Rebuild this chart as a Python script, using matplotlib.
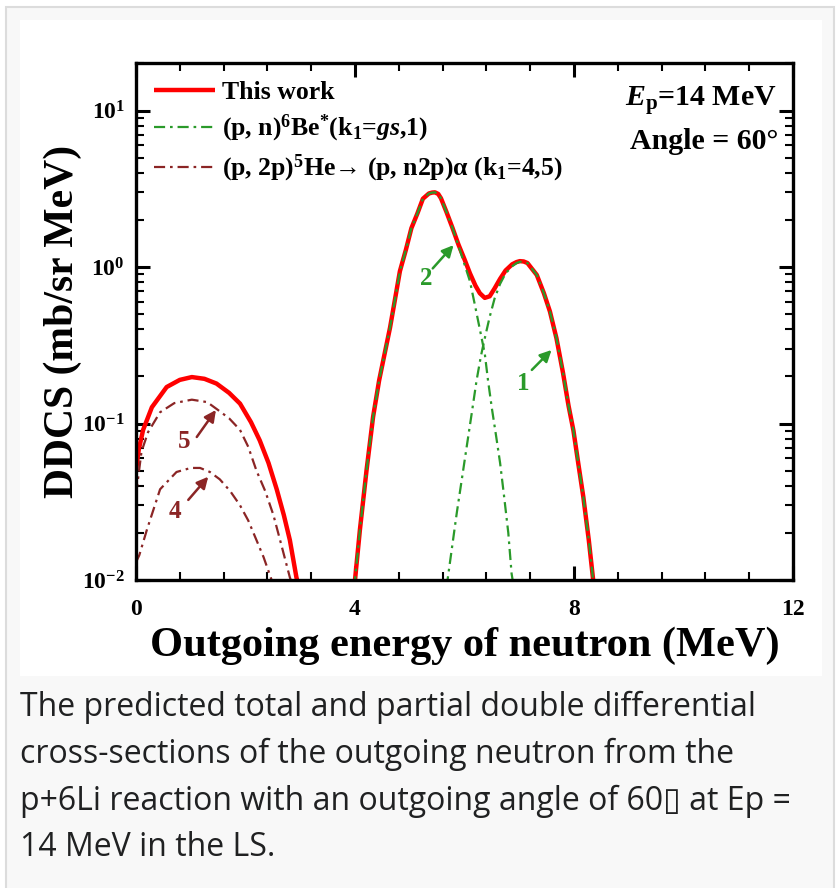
import numpy as np
import matplotlib
matplotlib.use('Agg')
from matplotlib import pyplot as plt
from matplotlib.patches import Rectangle
from matplotlib.ticker import MultipleLocator, LogLocator, NullFormatter

# ---- data ----
# total (this work), low-energy part (k1 = 4,5)
e_tot_lo = [0.0, 0.05, 0.13, 0.29, 0.56, 0.8, 1.02, 1.25, 1.47, 1.7, 1.9, 2.1, 2.26, 2.42, 2.57, 2.7, 2.81, 2.93, 2.96]
d_tot_lo = [0.05, 0.068, 0.091, 0.127, 0.171, 0.19, 0.198, 0.193, 0.18, 0.157, 0.134, 0.102, 0.078, 0.056, 0.038, 0.026, 0.018, 0.0104, 0.0095]

# total (this work), high-energy part (k1 = gs,1)
e_tot_hi = [3.98, 4.0, 4.09, 4.21, 4.33, 4.44, 4.54, 4.64, 4.73, 4.82, 4.93, 5.03, 5.14, 5.24, 5.35, 5.41, 5.46, 5.52,
            5.57, 5.67, 5.78, 5.89, 6.0, 6.1, 6.2, 6.28, 6.37, 6.46, 6.55, 6.65, 6.75, 6.87, 6.95, 7.01, 7.08, 7.15,
            7.32, 7.45, 7.56, 7.68, 7.8, 7.9, 7.99, 8.08, 8.17, 8.27, 8.35, 8.38]
d_tot_hi = [0.009, 0.01, 0.021, 0.05, 0.11, 0.188, 0.278, 0.41, 0.62, 0.94, 1.29, 1.77, 2.2, 2.73, 2.95, 2.99, 3.0, 2.93,
            2.75, 2.25, 1.78, 1.39, 1.12, 0.91, 0.76, 0.68, 0.635, 0.65, 0.73, 0.84, 0.95, 1.04, 1.075, 1.09, 1.085, 1.06,
            0.89, 0.68, 0.52, 0.35, 0.21, 0.13, 0.09, 0.055, 0.034, 0.018, 0.01, 0.009]

# partial: k1 = gs (curve 2)
e_k2 = [3.98, 4.0, 4.09, 4.21, 4.33, 4.44, 4.54, 4.64, 4.73, 4.82, 4.93, 5.03, 5.14, 5.24, 5.35, 5.41, 5.46, 5.52,
        5.57, 5.67, 5.78, 5.89, 6.0, 6.1, 6.2, 6.28, 6.37, 6.43, 6.5, 6.58, 6.65, 6.72, 6.8, 6.86, 6.9]
d_k2 = [0.009, 0.01, 0.021, 0.05, 0.11, 0.188, 0.278, 0.41, 0.62, 0.94, 1.29, 1.77, 2.2, 2.73, 2.95, 2.99, 3.0, 2.93,
        2.75, 2.25, 1.78, 1.37, 1.04, 0.81, 0.55, 0.40, 0.28, 0.188, 0.125, 0.082, 0.056, 0.035, 0.02, 0.011, 0.009]

# partial: k1 = 1 (curve 1)
e_k1 = [5.66, 5.69, 5.86, 6.04, 6.13, 6.22, 6.3, 6.37, 6.46, 6.55, 6.65, 6.75, 6.87, 6.95, 7.01, 7.08, 7.15,
        7.32, 7.45, 7.56, 7.68, 7.8, 7.9, 7.99, 8.08, 8.17, 8.27, 8.35, 8.38]
d_k1 = [0.009, 0.01, 0.027, 0.071, 0.115, 0.188, 0.27, 0.35, 0.48, 0.63, 0.78, 0.91, 1.01, 1.06, 1.08, 1.08, 1.06,
        0.89, 0.68, 0.52, 0.35, 0.21, 0.13, 0.09, 0.055, 0.034, 0.018, 0.01, 0.009]

# partial: k1 = 5
e_k5 = [0.0, 0.1, 0.22, 0.44, 0.7, 1.02, 1.3, 1.47, 1.7, 1.9, 2.05, 2.2, 2.36, 2.51, 2.65, 2.81, 2.85]
d_k5 = [0.035, 0.066, 0.088, 0.118, 0.135, 0.142, 0.137, 0.124, 0.108, 0.091, 0.071, 0.05, 0.037, 0.026, 0.017, 0.0104, 0.0095]

# partial: k1 = 4
e_k4 = [0.0, 0.06, 0.2, 0.44, 0.74, 1.0, 1.17, 1.35, 1.53, 1.72, 1.9, 2.05, 2.2, 2.33, 2.46, 2.5]
d_k4 = [0.013, 0.0144, 0.021, 0.038, 0.049, 0.052, 0.052, 0.049, 0.044, 0.037, 0.03, 0.024, 0.018, 0.014, 0.0104, 0.0095]

xticks = [0, 4, 8, 12]
yticks = [0.01, 0.1, 1, 10]
ytick_labels = ['10$^{-2}$', '10$^{-1}$', '10$^{0}$', '10$^{1}$']
labels = ['This work',
          r'(p, n)$^{6}$Be$^{*}$(k$_{1}$=$gs$,1)',
          r'(p, 2p)$^{5}$He→ (p, n2p)α (k$_{1}$=4,5)']
caption = ('The predicted total and partial double differential\n'
           'cross-sections of the outgoing neutron from the\n'
           'p+6Li reaction with an outgoing angle of 60\u25af at Ep =\n'
           '14 MeV in the LS.')

RED = '#ff0000'
GREEN = '#2a9a2a'
BROWN = '#8b2525'

plt.rcParams['font.family'] = ['Liberation Serif', 'DejaVu Serif']
plt.rcParams['font.weight'] = 'bold'
plt.rcParams['mathtext.fontset'] = 'custom'
plt.rcParams['mathtext.rm'] = 'Liberation Serif:bold'
plt.rcParams['mathtext.it'] = 'Liberation Serif:italic:bold'
plt.rcParams['mathtext.bf'] = 'Liberation Serif:bold'

W, H = 840, 888
fig = plt.figure(figsize=(W / 100, H / 100), dpi=100)
fig.patch.set_facecolor('white')

# page background / white picture panel
fig.patches.append(Rectangle((6 / W, -0.05), 828 / W, 1.05 - 7 / H, transform=fig.transFigure,
                             facecolor='#f8f8f8', edgecolor='#dcdcdc', lw=1.5, zorder=-10))
fig.patches.append(Rectangle((20 / W, 1 - 676 / H), 802 / W, 656 / H, transform=fig.transFigure,
                             facecolor='white', edgecolor='none', zorder=-9))

ax = fig.add_axes([136 / W, 1 - 580 / H, 657 / W, 516.6 / H])
ax.set_facecolor('white')
ax.set_zorder(1)

dd = (0, (5, 2.2, 1.2, 2.2))
ax.plot(e_tot_lo, d_tot_lo, color=RED, lw=3.2, label=labels[0], solid_capstyle='butt')
ax.plot(e_tot_hi, d_tot_hi, color=RED, lw=3.2, solid_capstyle='butt')
ax.plot(e_k2, d_k2, color=GREEN, lw=1.6, ls=dd, label=labels[1])
ax.plot(e_k1, d_k1, color=GREEN, lw=1.6, ls=dd)
ax.plot(e_k5, d_k5, color=BROWN, lw=1.6, ls=dd, label=labels[2])
ax.plot(e_k4, d_k4, color=BROWN, lw=1.6, ls=dd)

ax.set_yscale('log')
ax.set_xlim(0, 12)
ax.set_ylim(0.01, 20)
ax.set_xticks(xticks)
ax.set_xticklabels([str(t) for t in xticks])
ax.xaxis.set_minor_locator(MultipleLocator(0.8))
ax.set_yticks(yticks)
ax.set_yticklabels(ytick_labels)
ax.yaxis.set_minor_locator(LogLocator(base=10, subs=np.arange(2, 10)))
ax.yaxis.set_minor_formatter(NullFormatter())
ax.xaxis.set_ticks_position('both')
ax.yaxis.set_ticks_position('both')
ax.tick_params(which='both', direction='in', color='black',
               bottom=True, top=True, left=True, right=True)
ax.tick_params(which='major', length=10, width=2.2)
ax.tick_params(which='minor', length=6, width=1.5)
ax.tick_params(axis='x', which='major', labelsize=17, pad=14)
ax.tick_params(axis='y', which='major', labelsize=17, pad=8)
for s in ax.spines.values():
    s.set_linewidth(2.4)

ax.set_xlabel('Outgoing energy of neutron (MeV)', fontsize=30.5, fontweight='bold')
ax.xaxis.set_label_coords(0.5, -0.09)
ax.set_ylabel('DDCS (mb/sr MeV)', fontsize=30, fontweight='bold')
ax.yaxis.set_label_coords(-0.082, 0.5)

leg = ax.legend(loc='upper left', bbox_to_anchor=(0.02, 0.975), frameon=False, fontsize=18.5,
                handlelength=2.35, handletextpad=0.3, labelspacing=0.33, borderaxespad=0, borderpad=0.2)

ax.text(0.975, 0.96, r'$E_{\rm p}$=14 MeV', transform=ax.transAxes, ha='right', va='top', fontsize=21.5)
ax.text(0.978, 0.875, 'Angle = 60°', transform=ax.transAxes, ha='right', va='top', fontsize=21.5)

# numbered arrows
arrows = [('2', (5.3, 0.85), (5.42, 0.98), (5.8, 1.38), GREEN),
          ('1', (7.07, 0.18), (7.23, 0.22), (7.59, 0.295), GREEN),
          ('5', (0.88, 0.0765), (1.11, 0.082), (1.46, 0.122), BROWN),
          ('4', (0.71, 0.0273), (0.955, 0.0325), (1.32, 0.0457), BROWN)]
for txt, lab, tail, head, c in arrows:
    ax.text(lab[0], lab[1], txt, color=c, fontsize=18, ha='center', va='center')
    ax.annotate('', xy=head, xytext=tail,
                arrowprops=dict(arrowstyle='-|>', color=c, lw=1.8, mutation_scale=17,
                                shrinkA=0, shrinkB=0))

fig.text(20 / W, 1 - 691 / H, caption, ha='left', va='top', fontsize=23, color='#202122',
         family=['Open Sans', 'DejaVu Sans'], fontweight='normal', linespacing=1.54)

fig.savefig('out.png', dpi=100)
